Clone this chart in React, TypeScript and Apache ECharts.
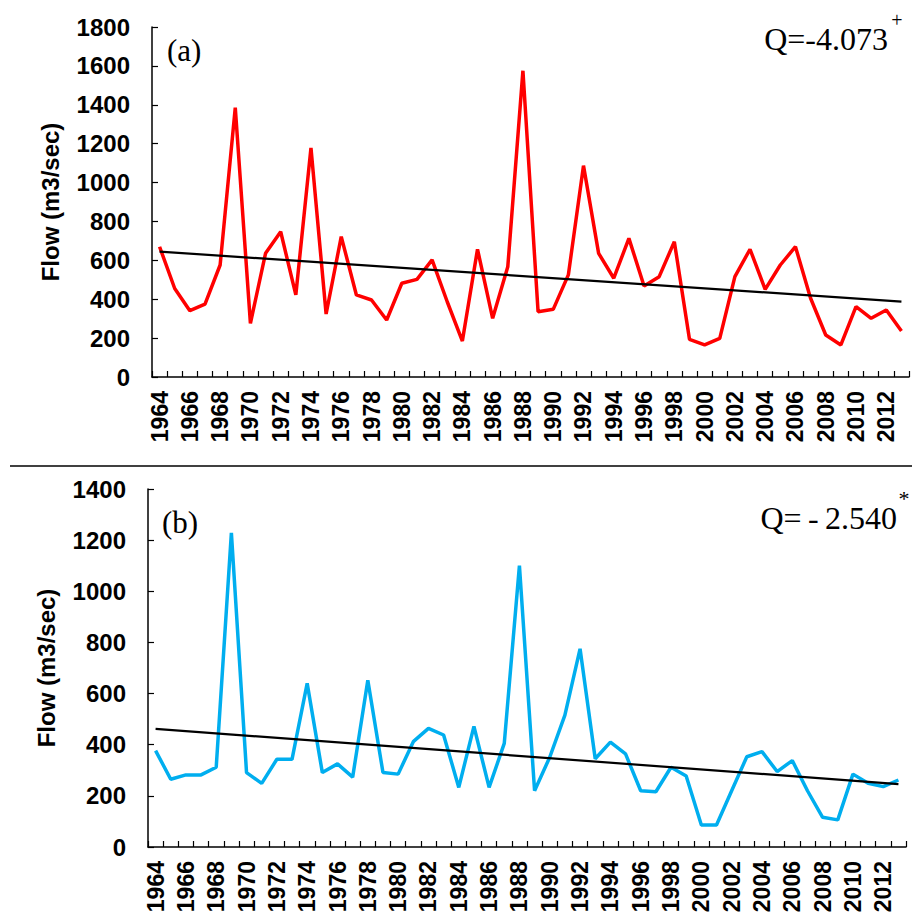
import React, { useEffect, useRef } from "react";
import * as echarts from "echarts";

const years: string[] = [
  "1964","1965","1966","1967","1968","1969","1970","1971","1972","1973",
  "1974","1975","1976","1977","1978","1979","1980","1981","1982","1983",
  "1984","1985","1986","1987","1988","1989","1990","1991","1992","1993",
  "1994","1995","1996","1997","1998","1999","2000","2001","2002","2003",
  "2004","2005","2006","2007","2008","2009","2010","2011","2012","2013",
];

const flowA: number[] = [
  670, 455, 341, 375, 576, 1385, 276, 636, 747, 422,
  1178, 324, 722, 422, 396, 293, 482, 502, 602, 387,
  185, 657, 302, 567, 1575, 336, 348, 525, 1087, 636,
  508, 713, 468, 516, 696, 194, 165, 199, 516, 657,
  451, 576, 670, 405, 216, 165, 362, 302, 345, 237,
];

const flowB: number[] = [
  377, 265, 282, 282, 312, 1228, 291, 249, 343, 343,
  640, 291, 325, 273, 652, 291, 285, 412, 464, 438,
  233, 472, 233, 405, 1100, 220, 351, 516, 775, 345,
  410, 364, 220, 216, 312, 278, 86, 86, 220, 353,
  373, 295, 338, 220, 116, 106, 285, 249, 236, 262,
];

const trendA: [string, number][] = [["1964", 645], ["2013", 388]];
const trendB: [string, number][] = [["1964", 462], ["2013", 246]];

const yTicksA = { min: 0, max: 1800, interval: 200 };
const yTicksB = { min: 0, max: 1400, interval: 200 };

const labelA = "(a)";
const labelB = "(b)";
const qA = "Q=-4.073";
const qAsup = "+";
const qB = "Q=\u2009-\u20092.540";
const qBsup = "*";
const yName = "Flow (m3/sec)";

export default function App() {
  const ref = useRef<HTMLDivElement>(null);

  useEffect(() => {
    if (!ref.current) return;
    const chart = echarts.init(ref.current, undefined, { renderer: "svg" });
    const sans = '"Liberation Sans", Arial, sans-serif';
    const serif = '"Liberation Serif", "Times New Roman", serif';

    const xAxisCommon = (gridIndex: number) => ({
      type: "category" as const,
      gridIndex,
      data: years,
      boundaryGap: true,
      axisLine: { show: true, lineStyle: { color: "#000", width: 1.5 } },
      axisTick: { show: true, inside: true, length: 6, interval: 0, lineStyle: { color: "#000", width: 1.2 } },
      axisLabel: {
        interval: 1,
        rotate: 90,
        margin: 14,
        color: "#000",
        fontFamily: sans,
        fontWeight: "bold" as const,
        fontSize: 23,
      },
      splitLine: { show: false },
    });

    const yAxisCommon = (gridIndex: number, t: { min: number; max: number; interval: number }) => ({
      type: "value" as const,
      gridIndex,
      min: t.min,
      max: t.max,
      interval: t.interval,
      name: yName,
      nameLocation: "middle" as const,
      nameGap: 90,
      nameTextStyle: { color: "#000", fontFamily: sans, fontWeight: "bold" as const, fontSize: 24 },
      axisLine: { show: true, lineStyle: { color: "#000", width: 1.5 } },
      axisTick: { show: true, inside: true, length: 6, lineStyle: { color: "#000", width: 1.2 } },
      axisLabel: {
        margin: 22,
        color: "#000",
        fontFamily: sans,
        fontWeight: "bold" as const,
        fontSize: 24,
        formatter: (v: number) => String(v),
      },
      splitLine: { show: false },
    });

    chart.setOption({
      animation: false,
      backgroundColor: "#fff",
      grid: [
        { left: 152, top: 27, width: 757, height: 350 },
        { left: 148, top: 489, width: 758, height: 358 },
      ],
      xAxis: [xAxisCommon(0), xAxisCommon(1)],
      yAxis: [yAxisCommon(0, yTicksA), yAxisCommon(1, yTicksB)],
      series: [
        {
          type: "line",
          xAxisIndex: 0,
          yAxisIndex: 0,
          data: flowA,
          showSymbol: false,
          symbol: "none",
          lineStyle: { color: "#FF0000", width: 3.5 },
          z: 2,
        },
        {
          type: "line",
          xAxisIndex: 0,
          yAxisIndex: 0,
          data: trendA,
          showSymbol: false,
          symbol: "none",
          lineStyle: { color: "#000", width: 2.2 },
          z: 3,
        },
        {
          type: "line",
          xAxisIndex: 1,
          yAxisIndex: 1,
          data: flowB,
          showSymbol: false,
          symbol: "none",
          lineStyle: { color: "#00AEEF", width: 3.5 },
          z: 2,
        },
        {
          type: "line",
          xAxisIndex: 1,
          yAxisIndex: 1,
          data: trendB,
          showSymbol: false,
          symbol: "none",
          lineStyle: { color: "#000", width: 2.2 },
          z: 3,
        },
      ],
      graphic: [
        {
          type: "line",
          shape: { x1: 10, y1: 466, x2: 912, y2: 466 },
          style: { stroke: "#000", lineWidth: 1.5 },
        },
        {
          type: "text",
          x: 167,
          y: 50,
          style: { text: labelA, fontFamily: serif, fontSize: 31, fill: "#000", verticalAlign: "middle", align: "left" },
        },
        {
          type: "text",
          x: 888,
          y: 39,
          style: { text: qA, fontFamily: serif, fontSize: 32, fill: "#000", verticalAlign: "middle", align: "right" },
        },
        {
          type: "text",
          x: 897,
          y: 20,
          style: { text: qAsup, fontFamily: serif, fontSize: 20, fill: "#000", verticalAlign: "middle", align: "center" },
        },
        {
          type: "text",
          x: 162,
          y: 522,
          style: { text: labelB, fontFamily: serif, fontSize: 31, fill: "#000", verticalAlign: "middle", align: "left" },
        },
        {
          type: "text",
          x: 897,
          y: 518,
          style: { text: qB, fontFamily: serif, fontSize: 32, fill: "#000", verticalAlign: "middle", align: "right" },
        },
        {
          type: "text",
          x: 904,
          y: 498,
          style: { text: qBsup, fontFamily: serif, fontSize: 22, fill: "#000", verticalAlign: "middle", align: "center" },
        },
      ],
    });

    return () => chart.dispose();
  }, []);

  return (
    <div
      ref={ref}
      style={{ position: "fixed", left: 0, top: 0, width: 912, height: 920, background: "#fff" }}
    />
  );
}
